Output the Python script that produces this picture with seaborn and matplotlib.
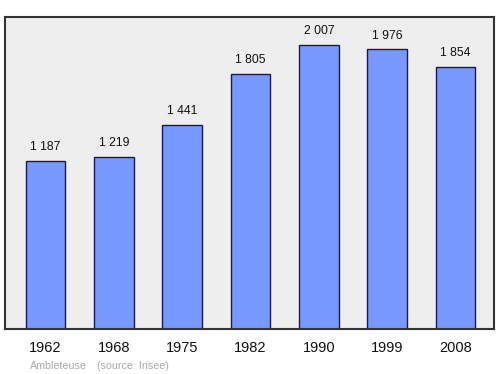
import matplotlib
matplotlib.use("Agg")
import matplotlib.pyplot as plt
import seaborn as sns
import pandas as pd

years = ["1962", "1968", "1975", "1982", "1990", "1999", "2008"]
population = [1187, 1219, 1441, 1805, 2007, 1976, 1854]
labels = ["1 187", "1 219", "1 441", "1 805", "2 007", "1 976", "1 854"]

sns.set_style("white")
plt.rcParams['font.family'] = ['Liberation Sans', 'DejaVu Sans']

df = pd.DataFrame({"year": years, "pop": population})

fig = plt.figure(figsize=(5, 3.74), dpi=100)
ax = fig.add_axes([0.01, 0.1203, 0.978, 0.8342])
ax.set_facecolor("#eeeeee")
sns.barplot(data=df, x="year", y="pop", ax=ax, color="#7799ff", saturation=1,
            width=0.58, edgecolor="#1a1a4d", linewidth=1.0)
for i, (v, t) in enumerate(zip(population, labels)):
    ax.text(i, v + 55, t, ha="center", va="bottom", fontsize=8.7, color="#111111")
ax.set_ylim(0, 2205)
ax.set_xlim(-0.593, 6.563)
ax.set_yticks([])
ax.set_xlabel("")
ax.set_ylabel("")
ax.tick_params(axis="x", length=0, labelsize=10.5, pad=8.5, colors="#111111")
for s in ax.spines.values():
    s.set_color("#333333")
    s.set_linewidth(1.5)
    s.set_visible(True)
fig.text(0.06, 0.014, "Ambleteuse", fontsize=7.7, color="#aaaaaa")
fig.text(0.194, 0.014, "(source: Insee)", fontsize=7.7, color="#aaaaaa")
fig.savefig("out.png", dpi=100)
